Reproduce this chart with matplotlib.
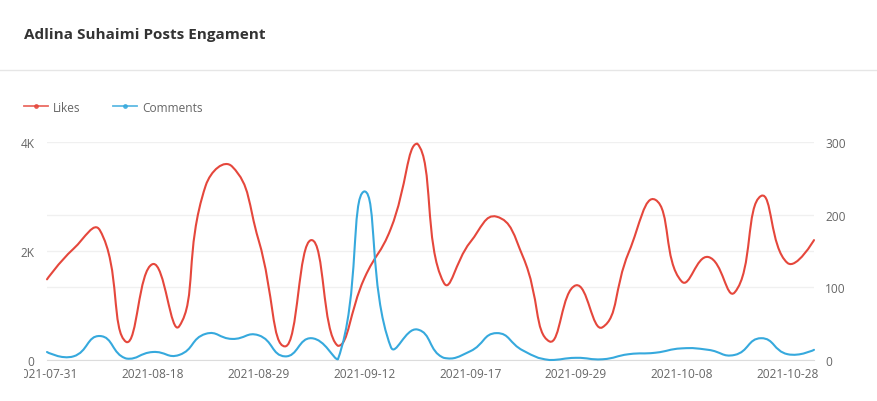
import numpy as np
import matplotlib
matplotlib.use('Agg')
import matplotlib.pyplot as plt
from matplotlib.path import Path
from matplotlib.patches import PathPatch
from matplotlib.lines import Line2D
from matplotlib.transforms import Bbox
from matplotlib.ticker import FuncFormatter

# data (one point per post, category axis)
tick_labels = ['2021-07-31', '2021-08-18', '2021-08-29', '2021-09-12',
               '2021-09-17', '2021-09-29', '2021-10-08', '2021-10-28']
likes = [1480, 2040, 2380, 330, 1760, 620, 3200, 3550, 2200, 250,
         2200, 260, 1500, 2410, 3970, 1420, 2160, 2630, 1890, 340,
         1370, 600, 1980, 2940, 1440, 1890, 1240, 3010, 1780, 2200]
comments = [11, 5, 33, 2, 11, 7, 36, 29, 34, 5,
            30, 1, 232, 18, 42, 3, 12, 37, 13, 0,
            3, 1, 8, 10, 16, 14, 7, 30, 8, 14]
likes_ticks = [0, 2000, 4000]
comments_ticks = [0, 100, 200, 300]

RED = '#e5473c'
BLUE = '#36a9dd'
GRID = '#f0f0f0'
TXT = '#666666'

plt.rcParams['font.family'] = ['Open Sans', 'DejaVu Sans']


def smooth_path(ax, xs, ys, smooth=0.5):
    # echarts-style smoothed polyline, worked out in pixel space
    pts = ax.transData.transform(np.column_stack([xs, ys]))
    lo, hi = pts.min(axis=0), pts.max(axis=0)
    verts = [pts[0]]
    codes = [Path.MOVETO]
    cp0 = pts[0].copy()
    n = len(pts)
    for i in range(1, n):
        p = pts[i]
        ratio = 0.5
        if i == n - 1:
            cp1 = p.copy()
            v = np.zeros(2)
        else:
            v = pts[i + 1] - pts[i - 1]
            d0 = np.hypot(*(p - pts[i - 1]))
            d1 = np.hypot(*(pts[i + 1] - p))
            ratio = d1 / (d0 + d1)
            cp1 = p - v * smooth * (1 - ratio)
        verts += [np.clip(cp0, lo, hi), np.clip(cp1, lo, hi), p]
        codes += [Path.CURVE4] * 3
        cp0 = p + v * smooth * ratio
    return Path(ax.transData.inverted().transform(np.array(verts)), codes)


W, H = 877, 402
fig = plt.figure(figsize=(W / 100, H / 100), dpi=100)
fig.patch.set_facecolor('white')

fig.text(24 / W, 1 - 35 / H, 'Adlina Suhaimi Posts Engament', fontsize=11,
         fontweight='bold', color='#333333', va='center', ha='left')
fig.add_artist(Line2D([0, 1], [1 - 70.5 / H, 1 - 70.5 / H], color='#e6e6e6',
                      lw=1, transform=fig.transFigure))

ax = fig.add_axes([47 / W, (H - 361) / H, 767 / W, 218 / H])
ax2 = ax.twinx()
idx = np.arange(len(likes))

ax.set_xlim(idx[0], idx[-1])
ax.set_ylim(likes_ticks[0], likes_ticks[-1])
ax2.set_ylim(comments_ticks[0], comments_ticks[-1])

ax.set_yticks(likes_ticks)
ax.yaxis.set_major_formatter(FuncFormatter(lambda v, p: '0' if v == 0 else f'{v / 1000:g}K'))
# right axis grid lines, drawn on the left axis so they stay under the lines
ax.set_yticks(np.array(comments_ticks[1:-1]) * likes_ticks[-1] / comments_ticks[-1], minor=True)
ax.grid(True, which='both', axis='y', color=GRID, lw=1)
ax.set_axisbelow(True)
ax2.set_yticks(comments_ticks)

ax.set_xticks(idx[::4])
ax.set_xticklabels(tick_labels)

for a in (ax, ax2):
    for s in a.spines.values():
        s.set_visible(False)
    a.tick_params(length=0, labelsize=8.6, labelcolor=TXT)
    a.tick_params(which='minor', length=0)
ax.spines['bottom'].set_visible(True)
ax.spines['bottom'].set_color('#dcdcdc')
ax.tick_params(axis='y', pad=9)
ax.tick_params(axis='x', pad=5)
ax2.tick_params(axis='y', pad=8)

ax.add_patch(PathPatch(smooth_path(ax, idx, likes), fill=False, edgecolor=RED,
                       lw=1.5, clip_on=False, capstyle='round', joinstyle='round'))
ax2.add_patch(PathPatch(smooth_path(ax2, idx, comments), fill=False, edgecolor=BLUE,
                        lw=1.5, clip_on=False, capstyle='round', joinstyle='round'))

# the first date label is cut by the card padding
first = ax.get_xticklabels()[0]
first.set_clip_box(Bbox.from_extents(24, 0, W, H))
first.set_clip_on(True)

handles = [Line2D([], [], color=RED, lw=1.3, marker='o', markersize=2.5, alpha=0.8),
           Line2D([], [], color=BLUE, lw=1.3, marker='o', markersize=2.5, alpha=0.8)]
fig.legend(handles, ['Likes', 'Comments'], loc='center left',
           bbox_to_anchor=(24 / W, 1 - 108 / H), bbox_transform=fig.transFigure,
           ncol=2, frameon=False, fontsize=8.6, labelcolor=TXT, borderpad=0,
           borderaxespad=0, handlelength=2.0, handletextpad=0.45,
           columnspacing=2.7, numpoints=1)

fig.savefig('out.png', dpi=100, facecolor='white')
